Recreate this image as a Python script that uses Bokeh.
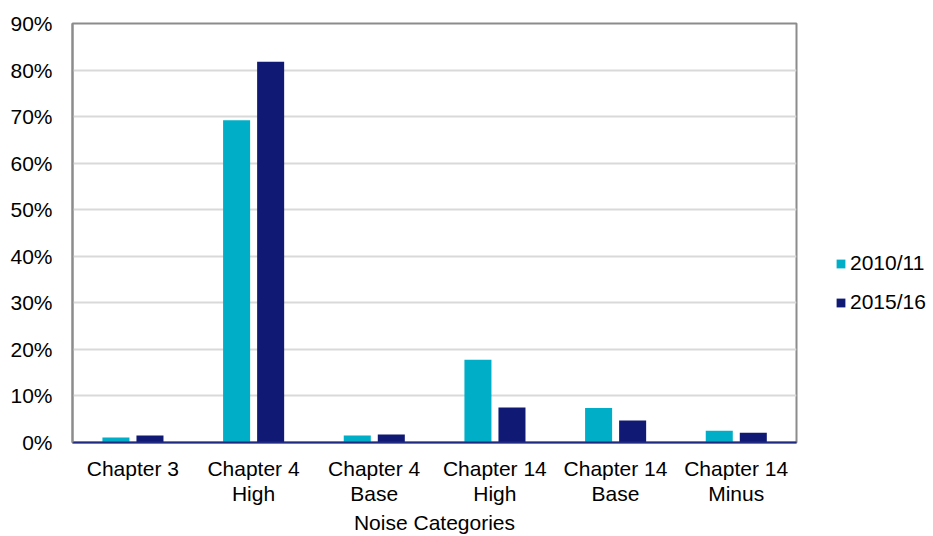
from bokeh.plotting import figure
from bokeh.models import ColumnDataSource, FactorRange, Range1d, NumeralTickFormatter, Legend, LegendItem, FixedTicker
from bokeh.transform import dodge
from bokeh.embed import file_html
from bokeh.resources import INLINE

categories = ["Chapter 3", "Chapter 4\nHigh", "Chapter 4\nBase", "Chapter 14\nHigh", "Chapter 14\nBase", "Chapter 14\nMinus"]
series_2010_11 = [0.011, 0.692, 0.015, 0.178, 0.074, 0.025]
series_2015_16 = [0.015, 0.818, 0.017, 0.075, 0.047, 0.021]
y_ticks = [0, 0.1, 0.2, 0.3, 0.4, 0.5, 0.6, 0.7, 0.8, 0.9]

FONT = "Liberation Sans"
FS = "21px"
CYAN = "#00AEC7"
NAVY = "#101A75"

src = ColumnDataSource(dict(cat=categories, a=series_2010_11, b=series_2015_16))

p = figure(frame_width=724, frame_height=419, x_range=FactorRange(*categories), y_range=Range1d(0, 0.9),
           output_backend="svg", toolbar_location=None,
           min_border_left=72, min_border_right=10, min_border_top=23, min_border_bottom=10)

r1 = p.vbar(x=dodge("cat", -0.14, range=p.x_range), top="a", width=0.224, source=src,
            fill_color=CYAN, line_color=None)
r2 = p.vbar(x=dodge("cat", 0.142, range=p.x_range), top="b", width=0.224, source=src,
            fill_color=NAVY, line_color=None)

p.outline_line_color = "#8C8C8C"
p.outline_line_width = 2
p.xgrid.grid_line_color = None
p.ygrid.grid_line_color = "#D9D9D9"
p.ygrid.grid_line_width = 2

p.yaxis.ticker = FixedTicker(ticks=y_ticks)
p.yaxis.formatter = NumeralTickFormatter(format="0%")
p.yaxis.axis_line_color = "#8C8C8C"
p.yaxis.axis_line_width = 2
p.yaxis.major_tick_line_color = None
p.yaxis.minor_tick_line_color = None
p.yaxis.major_label_standoff = 14
p.yaxis.major_label_text_font = FONT
p.yaxis.major_label_text_font_size = FS
p.yaxis.major_label_text_color = "#000000"

p.xaxis.axis_line_color = "#1F2A80"
p.xaxis.axis_line_width = 2
p.xaxis.major_tick_line_color = None
p.xaxis.minor_tick_line_color = None
p.xaxis.major_label_standoff = 8
p.xaxis.major_label_text_font = FONT
p.xaxis.major_label_text_font_size = FS
p.xaxis.major_label_text_line_height = 1.1
p.xaxis.major_label_text_color = "#000000"
p.xaxis.axis_label = "Noise Categories"
p.xaxis.axis_label_text_font = FONT
p.xaxis.axis_label_text_font_size = FS
p.xaxis.axis_label_text_font_style = "normal"
p.xaxis.axis_label_text_color = "#000000"
p.xaxis.axis_label_standoff = 3

legend = Legend(items=[LegendItem(label="2010/11", renderers=[r1]),
                       LegendItem(label="2015/16", renderers=[r2])],
                location=(39, 128))
legend.border_line_color = None
legend.background_fill_alpha = 0
legend.glyph_width = 11
legend.glyph_height = 11
legend.label_text_font = FONT
legend.label_text_font_size = FS
legend.label_text_color = "#000000"
legend.label_standoff = 4
legend.spacing = 15
legend.padding = 0
legend.margin = 0
p.add_layout(legend, "right")

open("out.html", "w").write(file_html(p, INLINE))
